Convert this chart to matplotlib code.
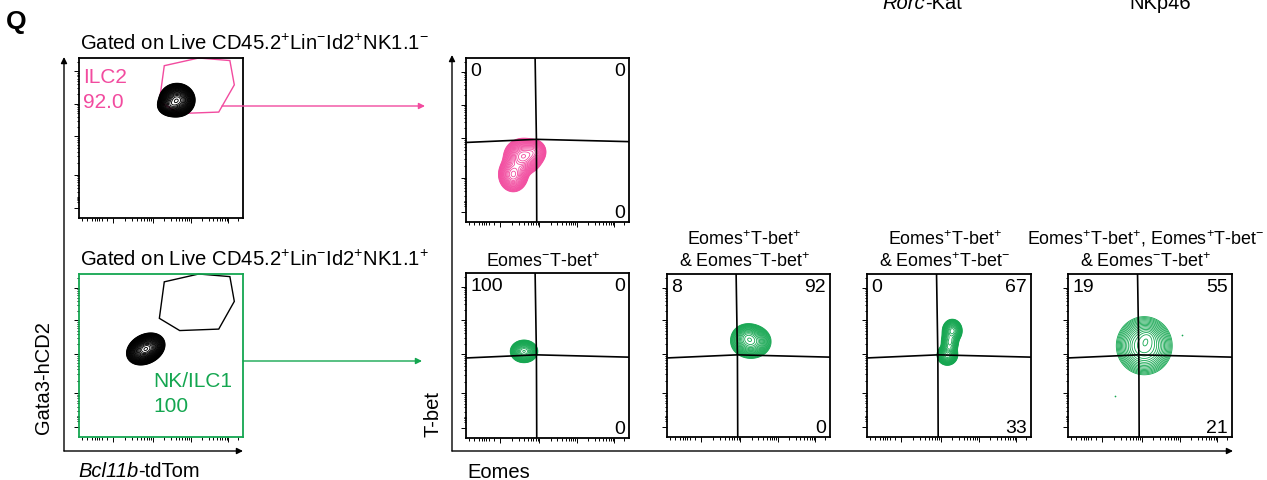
import numpy as np
import matplotlib.pyplot as plt

W, H = 1267, 481
PINK = '#f24b9f'
GREEN = '#14a650'

plt.rcParams['font.family'] = ['Liberation Sans', 'DejaVu Sans']
plt.rcParams['mathtext.fontset'] = 'custom'
plt.rcParams['mathtext.rm'] = 'Liberation Sans'
plt.rcParams['mathtext.it'] = 'Liberation Sans:italic'
plt.rcParams['mathtext.bf'] = 'Liberation Sans:bold'

# ---- data ----
# ILC2 gate polygon (fraction of panel)
gate_x = [0.52, 0.73, 0.92, 0.947, 0.852, 0.614, 0.49]
gate_y = [0.952, 1.0, 0.984, 0.832, 0.662, 0.653, 0.728]
ilc2_pct = '92.0'
nk_pct = '100'

# populations as (x, y, sx, sy, angle, weight)
pop_nk11_neg = [(0.598, 0.737, 0.042, 0.040, 0, 1.0),
                (0.55, 0.70, 0.030, 0.025, 0, 0.35)]
pop_nk11_pos = [(0.407, 0.540, 0.047, 0.034, 28, 1.0)]
pop_ilc2 = [(0.35, 0.40, 0.045, 0.042, 0, 1.0),
            (0.29, 0.29, 0.036, 0.042, 0, 0.75),
            (0.42, 0.43, 0.030, 0.030, 0, 0.4)]
pops_nk = [
    [(0.356, 0.525, 0.032, 0.026, 0, 1.0)],
    [(0.515, 0.585, 0.048, 0.040, 0, 1.0),
     (0.49, 0.62, 0.035, 0.03, 0, 0.4)],
    [(0.49, 0.503, 0.024, 0.024, 0, 1.0),
     (0.52, 0.652, 0.024, 0.028, 0, 0.75),
     (0.505, 0.58, 0.022, 0.03, 0, 0.5)],
    [(0.465, 0.56, 0.065, 0.068, 0, 1.0),
     (0.485, 0.615, 0.03, 0.03, 0, 0.25)],
]
stray_x = [0.695, 0.287]
stray_y = [0.626, 0.25]

titles = [r'Eomes$^{-}$T-bet$^{+}$',
          'Eomes$^{+}$T-bet$^{+}$\n& Eomes$^{-}$T-bet$^{+}$',
          'Eomes$^{+}$T-bet$^{+}$\n& Eomes$^{+}$T-bet$^{-}$',
          'Eomes$^{+}$T-bet$^{+}$, Eomes$^{+}$T-bet$^{-}$\n& Eomes$^{-}$T-bet$^{+}$']
q_ul = ['100', '8', '0', '19']
q_ur = ['0', '92', '67', '55']
q_lr = ['0', '0', '33', '21']
ilc2_q = ['0', '0', '0']

# quadrant gate (fraction of panel)
quad_v = ([0.424, 0.432, 0.434], [1.0, 0.504, 0.0])
quad_h = ([0.0, 0.432, 1.0], [0.485, 0.504, 0.49])

fig = plt.figure(figsize=(W / 100, H / 100), dpi=100)
renderer = fig.canvas.get_renderer()


def px_axes(l, t, r, b):
    return fig.add_axes([l / W, 1 - b / H, (r - l) / W, (b - t) / H])


def px_text(x, y, s, **kw):
    kw.setdefault('va', 'baseline')
    return fig.text(x / W, 1 - y / H, s, **kw)


def mixed_text(x, y, parts, size):
    # italic gene name followed by upright reporter name
    for s, style in parts:
        t = px_text(x, y, s, fontsize=size, fontstyle=style)
        x += t.get_window_extent(renderer=renderer).width


gx, gy = np.meshgrid(np.linspace(0, 1, 300), np.linspace(0, 1, 300))


def density(comps):
    z = np.zeros_like(gx)
    for cx, cy, sx, sy, ang, w in comps:
        t = np.deg2rad(ang)
        dx, dy = gx - cx, gy - cy
        u = dx * np.cos(t) + dy * np.sin(t)
        v = -dx * np.sin(t) + dy * np.cos(t)
        z += w * np.exp(-0.5 * ((u / sx) ** 2 + (v / sy) ** 2))
    return z


def flow_panel(ax, edge='black'):
    ax.set_xlim(0, 1)
    ax.set_ylim(0, 1)
    for s in ax.spines.values():
        s.set_linewidth(1.3)
        s.set_color(edge)
    maj_y = [0.06, 0.27, 0.51, 0.715, 0.916]
    maj_x = [0.21, 0.45, 0.68, 0.91]
    lin = [0.02, 0.05, 0.08, 0.10, 0.11, 0.12, 0.14, 0.17]

    def minors(maj):
        out = []
        for a, b in zip(maj[:-1], maj[1:]):
            out += [a + np.log10(k) * (b - a) for k in range(2, 10)]
        out += [maj[-1] + np.log10(k) * 0.205 for k in range(2, 4)]
        return [m for m in out if m < 1]

    ax.set_yticks(maj_y)
    ax.set_yticks(minors(maj_y) + [0.10, 0.11, 0.12, 0.13], minor=True)
    ax.set_xticks(maj_x)
    ax.set_xticks(minors(maj_x) + lin, minor=True)
    ax.tick_params(which='both', direction='out', labelleft=False,
                   labelbottom=False, width=0.7, color='black')
    ax.tick_params(which='major', length=3.5)
    ax.tick_params(which='minor', length=1.8)


def contours(ax, comps, color, n=20, lw=0.6):
    z = density(comps)
    lv = z.max() * np.geomspace(0.03, 0.97, n)
    ax.contour(gx, gy, z, levels=lv, colors=color, linewidths=lw)


def quad(ax):
    ax.plot(*quad_v, color='black', lw=1.2)
    ax.plot(*quad_h, color='black', lw=1.2)


def corner(ax, s, pos, size=14):
    x, y, ha, va, dx, dy = {
        'ul': (0, 1, 'left', 'top', 3, -3),
        'ur': (1, 1, 'right', 'top', -3, -3),
        'lr': (1, 0, 'right', 'bottom', -3, 1),
    }[pos]
    ax.annotate(s, (x, y), xycoords='axes fraction', xytext=(dx, dy),
                textcoords='offset points', ha=ha, va=va, fontsize=size)


# ---- left column ----
ax1 = px_axes(79, 59, 243, 219)
flow_panel(ax1)
contours(ax1, pop_nk11_neg, 'black', n=28, lw=0.65)
ax1.fill(gate_x, gate_y, fill=False, edgecolor=PINK, lw=1.0, clip_on=False)
px_text(83, 83, 'ILC2', color=PINK, fontsize=15)
px_text(83, 108, ilc2_pct, color=PINK, fontsize=15)

ax2 = px_axes(79, 275, 243, 438)
flow_panel(ax2, edge=GREEN)
contours(ax2, pop_nk11_pos, 'black', n=28, lw=0.65)
ax2.fill(gate_x, gate_y, fill=False, edgecolor='black', lw=1.0, clip_on=False)
px_text(153, 387, 'NK/ILC1', color=GREEN, fontsize=15)
px_text(153, 412, nk_pct, color=GREEN, fontsize=15)

px_text(80, 50, r'Gated on Live CD45.2$^{+}$Lin$^{-}$Id2$^{+}$NK1.1$^{-}$', fontsize=14.6)
px_text(80, 266.5, r'Gated on Live CD45.2$^{+}$Lin$^{-}$Id2$^{+}$NK1.1$^{+}$', fontsize=14.6)
mixed_text(78, 477, [('Bcl11b', 'italic'), ('-tdTom', 'normal')], 14.5)
px_text(43, 378, 'Gata3-hCD2', fontsize=14.5, rotation=90, ha='center', va='center')

# ---- right: ILC2 ----
ax3 = px_axes(466, 59, 629, 223)
flow_panel(ax3)
contours(ax3, pop_ilc2, PINK, n=22, lw=0.6)
quad(ax3)
for s, p in zip(ilc2_q, ['ul', 'ur', 'lr']):
    corner(ax3, s, p)

# ---- right: NK/ILC1 row ----
boxes = [(466, 274, 629, 439), (667, 275, 830, 438),
         (867, 275, 1031, 438), (1068, 275, 1232, 438)]
for i, b in enumerate(boxes):
    ax = px_axes(*b)
    flow_panel(ax)
    contours(ax, pops_nk[i], GREEN, n=20 if i < 3 else 16, lw=0.6)
    quad(ax)
    corner(ax, q_ul[i], 'ul')
    corner(ax, q_ur[i], 'ur')
    corner(ax, q_lr[i], 'lr')
    if i == 3:
        ax.scatter(stray_x, stray_y, s=1.5, color=GREEN, lw=0)
    cx = (b[0] + b[2]) / 2 - 4
    lines = titles[i].split('\n')
    if len(lines) == 1:
        px_text(cx, 267, lines[0], fontsize=12.9, ha='center')
    else:
        px_text(cx, 245, lines[0], fontsize=12.9, ha='center')
        px_text(cx, 267, lines[1], fontsize=12.9, ha='center')

px_text(433, 414, 'T-bet', fontsize=14.5, rotation=90, ha='center', va='center')
px_text(467, 478, 'Eomes', fontsize=14.5)

# cropped labels from the panel above
mixed_text(882, 9, [('Rorc', 'italic'), ('-Kat', 'normal')], 14.5)
px_text(1129, 9, 'NKp46', fontsize=14.5)
px_text(6, 29, 'Q', fontsize=19, fontweight='bold')

# ---- arrows / axes lines ----
ov = fig.add_axes([0, 0, 1, 1], zorder=5)
ov.set_xlim(0, W)
ov.set_ylim(H, 0)
ov.axis('off')
ov.patch.set_alpha(0)


def arrow(x0, y0, x1, y1, color='black', lw=1.0):
    ov.annotate('', xy=(x1, y1), xytext=(x0, y0),
                arrowprops=dict(arrowstyle='-|>', color=color, lw=lw,
                                mutation_scale=9, shrinkA=0, shrinkB=0))


arrow(64, 452, 64, 58)
arrow(64, 452, 243, 452)
arrow(452, 452, 452, 56)
arrow(452, 452, 1233, 452)
arrow(222, 107, 425, 107, color=PINK)
arrow(243, 362, 422, 362, color=GREEN)

fig.savefig('out.png', dpi=100)
